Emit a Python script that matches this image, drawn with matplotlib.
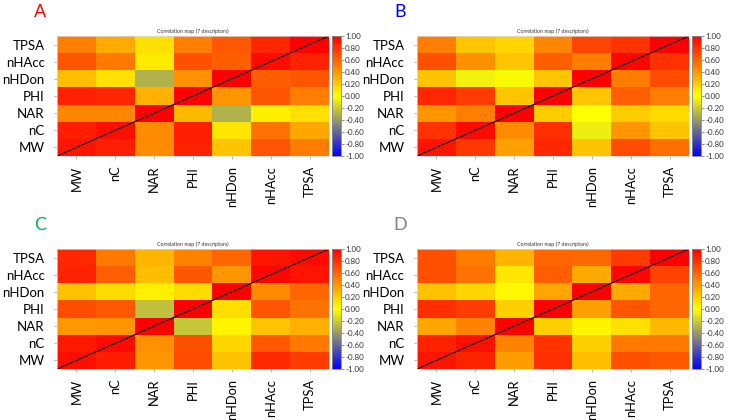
import matplotlib
matplotlib.use('Agg')
import matplotlib.pyplot as plt
import numpy as np
from matplotlib.colors import LinearSegmentedColormap

plt.rcParams['font.family'] = ['Lato', 'DejaVu Sans']
plt.rcParams['axes.unicode_minus'] = False

descriptors = ['MW', 'nC', 'NAR', 'PHI', 'nHDon', 'nHAcc', 'TPSA']

# rows = descriptors bottom to top (MW ... TPSA), columns = MW ... TPSA
corr_a = [
    [0.92, 0.88, 0.45, 0.86, 0.23, 0.67, 0.51],
    [0.88, 0.94, 0.45, 0.88, 0.10, 0.55, 0.35],
    [0.47, 0.47, 1.00, 0.27, -0.30, 0.06, 0.12],
    [0.86, 0.85, 0.31, 1.00, 0.41, 0.67, 0.50],
    [0.25, 0.12, -0.30, 0.43, 1.00, 0.63, 0.67],
    [0.67, 0.53, 0.08, 0.68, 0.63, 0.96, 0.86],
    [0.50, 0.33, 0.12, 0.50, 0.65, 0.85, 1.00],
]
corr_b = [
    [0.92, 0.78, 0.37, 0.85, 0.23, 0.70, 0.57],
    [0.80, 0.96, 0.45, 0.82, -0.07, 0.41, 0.23],
    [0.41, 0.50, 1.00, 0.20, 0.00, 0.20, 0.14],
    [0.85, 0.76, 0.22, 1.00, 0.22, 0.63, 0.50],
    [0.23, -0.05, -0.02, 0.22, 1.00, 0.50, 0.70],
    [0.68, 0.43, 0.23, 0.63, 0.50, 0.98, 0.80],
    [0.50, 0.22, 0.16, 0.47, 0.72, 0.80, 1.00],
]
corr_c = [
    [0.94, 0.88, 0.41, 0.70, 0.24, 0.84, 0.76],
    [0.90, 0.96, 0.43, 0.68, 0.16, 0.65, 0.53],
    [0.40, 0.41, 1.00, -0.22, 0.04, 0.23, 0.31],
    [0.70, 0.65, -0.25, 1.00, 0.13, 0.67, 0.55],
    [0.24, 0.14, 0.06, 0.14, 1.00, 0.45, 0.60],
    [0.86, 0.63, 0.25, 0.65, 0.41, 0.98, 0.92],
    [0.85, 0.53, 0.29, 0.49, 0.60, 0.92, 0.96],
]
corr_d = [
    [0.92, 0.86, 0.39, 0.82, 0.25, 0.68, 0.65],
    [0.86, 0.94, 0.49, 0.80, 0.18, 0.53, 0.53],
    [0.35, 0.49, 1.00, 0.18, 0.04, 0.12, 0.27],
    [0.82, 0.76, 0.18, 1.00, 0.37, 0.67, 0.60],
    [0.24, 0.16, 0.03, 0.35, 1.00, 0.33, 0.60],
    [0.68, 0.55, 0.10, 0.63, 0.33, 0.98, 0.74],
    [0.68, 0.51, 0.29, 0.60, 0.59, 0.76, 1.00],
]

panels = [
    ('A', '#ff0000', corr_a, (57, 36)),
    ('B', '#0000ff', corr_b, (417, 36)),
    ('C', '#00b050', corr_c, (57, 249)),
    ('D', '#808080', corr_d, (417, 249)),
]

cmap = LinearSegmentedColormap.from_list(
    'corr', [(0.0, (0, 0, 1)), (0.25, (0.5, 0.5, 0.5)),
             (0.5, (1, 1, 0)), (1.0, (1, 0, 0))])

W, H = 729, 420
fig = plt.figure(figsize=(W / 100, H / 100), dpi=100)


def px_axes(x0, y0, w, h):
    return fig.add_axes([x0 / W, (H - y0 - h) / H, w / W, h / H])


for letter, colour, corr, (x0, y0) in panels:
    data = np.array(corr)
    n = len(descriptors)
    ax = px_axes(x0, y0, 272, 120)
    mesh = ax.pcolormesh(np.arange(n + 1), np.arange(n + 1), data,
                         cmap=cmap, vmin=-1, vmax=1)
    ax.plot([0, n], [0, n], color='black', lw=0.8)
    ax.set_xlim(0, n)
    ax.set_ylim(0, n)
    ax.set_xticks(np.arange(n) + 0.5)
    ax.set_yticks(np.arange(n) + 0.5)
    ax.set_xticklabels(descriptors, rotation=90, fontsize=9.3)
    ax.set_yticklabels(descriptors, fontsize=9.5)
    ax.tick_params(axis='x', length=2.5, width=0.5, color='#999999', pad=4.5)
    ax.tick_params(axis='y', length=2.5, width=0.5, color='#999999', pad=6.5)
    for sp in ax.spines.values():
        sp.set_color('#dddddd')
        sp.set_linewidth(0.5)
    ax.set_title('Correlation map (7 descriptors)', fontsize=3.8,
                 color='#333333', pad=2)

    cax = px_axes(x0 + 275, y0, 9, 120)
    cb = fig.colorbar(mesh, cax=cax, ticks=np.linspace(-1, 1, 11), format='%.2f')
    cb.outline.set_edgecolor('#888888')
    cb.outline.set_linewidth(0.6)
    cax.tick_params(labelsize=5.8, length=2, width=0.5, pad=1, color='#666666',
                    labelcolor='#333333')

    fig.text((x0 - 17) / W, 1 - (y0 - 24) / H, letter, color=colour,
             fontsize=13, ha='center', va='center')

fig.savefig('out.png', dpi=100)
